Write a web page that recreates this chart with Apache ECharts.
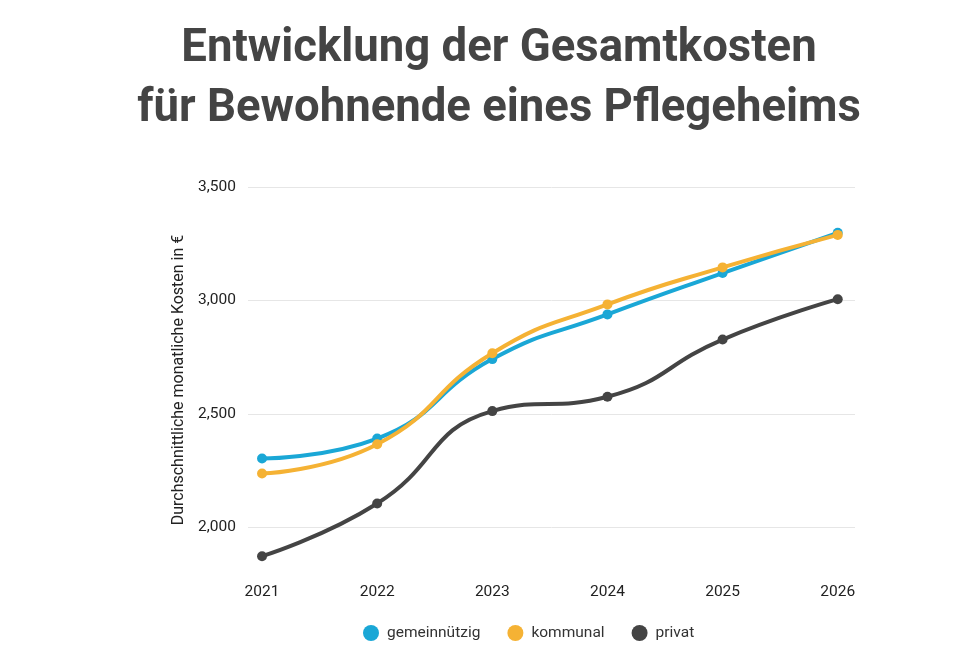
<!DOCTYPE html>
<html>
<head>
<meta charset="utf-8">
<script src="https://cdn.jsdelivr.net/npm/echarts@6/dist/echarts.min.js"></script>
<style>
html,body{margin:0;padding:0;background:#fff;}
#chart{width:979px;height:656px;}
</style>
</head>
<body>
<div id="chart"></div>
<script>
const years = [2021, 2022, 2023, 2024, 2025, 2026];
const gemeinnuetzig = [2304, 2392, 2742, 2939, 3121, 3298];
const kommunal = [2238, 2367, 2768, 2983, 3146, 3289];
const privat = [1874, 2106, 2513, 2576, 2828, 3006];
const yTicks = [2000, 2500, 3000, 3500];
const seriesNames = ['gemeinnützig', 'kommunal', 'privat'];
const colors = ['#1aa7d6', '#f5b234', '#444444'];

const pairs = vals => years.map((y, i) => [y, vals[i]]);
const allData = [gemeinnuetzig, kommunal, privat];

const chart = echarts.init(document.getElementById('chart'), null, {renderer: 'canvas'});
chart.setOption({
  animation: false,
  backgroundColor: '#fff',
  textStyle: {fontFamily: 'Roboto'},
  title: {
    text: 'Entwicklung der Gesamtkosten\nfür Bewohnende eines Pflegeheims',
    left: 494, top: 15, textAlign: 'center',
    textStyle: {fontFamily: 'Roboto', fontWeight: 'bold', fontSize: 45.5, lineHeight: 60, color: '#444444'}
  },
  legend: {
    data: seriesNames,
    bottom: 10, left: 358,
    icon: 'circle', itemWidth: 16, itemHeight: 16, itemGap: 27,
    textStyle: {fontFamily: 'Roboto', fontSize: 15.5, color: '#333', padding: [0, 0, 0, 3]}
  },
  grid: {left: 248, right: 124, top: 187, bottom: 83, containLabel: false},
  xAxis: {
    type: 'value',
    min: 2020.878, max: 2026.15,
    axisLine: {show: false}, axisTick: {show: false},
    splitLine: {show: false},
    axisLabel: {customValues: years, formatter: v => String(v), fontSize: 15.5, color: '#222', margin: 11, fontFamily: 'Roboto'}
  },
  yAxis: {
    type: 'value',
    min: 1800, max: 3500,
    name: 'Durchschnittliche monatliche Kosten in €',
    nameLocation: 'middle', nameGap: 61, nameRotate: 90,
    nameTextStyle: {fontSize: 16, color: '#222', fontFamily: 'Roboto'},
    axisLine: {show: false},
    axisTick: {show: false, customValues: yTicks},
    axisLabel: {customValues: yTicks, fontSize: 15.5, color: '#222', margin: 12, fontFamily: 'Roboto',
      formatter: v => v.toLocaleString('en-US')},
    splitLine: {show: true, lineStyle: {color: '#e6e6e6', width: 1}}
  },
  series: seriesNames.map((n, i) => ({
    name: n, type: 'line', smooth: true,
    data: pairs(allData[i]),
    symbol: 'circle', symbolSize: 10,
    lineStyle: {width: 4, color: colors[i]},
    itemStyle: {color: colors[i]},
    z: i === 1 ? 3 : 2
  }))
});
</script>
</body>
</html>
